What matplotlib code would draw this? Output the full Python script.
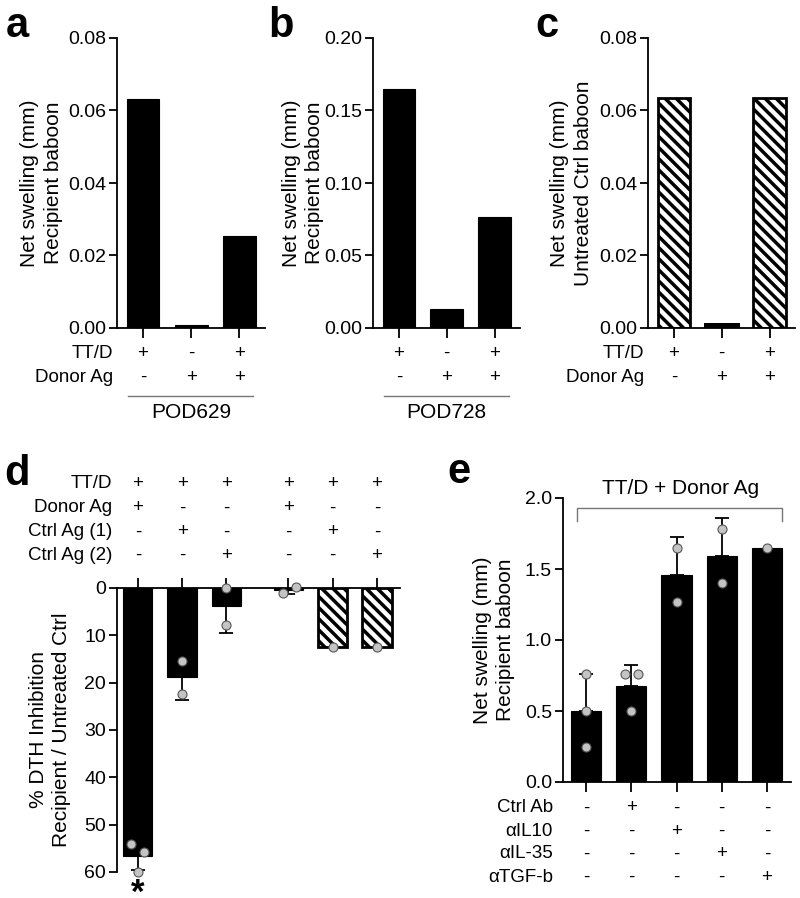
import numpy as np
import matplotlib
matplotlib.use('Agg')
import matplotlib.pyplot as plt
from matplotlib.transforms import blended_transform_factory

plt.rcParams['font.family'] = ['Liberation Sans', 'DejaVu Sans']
plt.rcParams['hatch.linewidth'] = 2.5
plt.rcParams['axes.linewidth'] = 1.3

# ---- data ----
abc_ttd = ['+', '-', '+']
abc_donor = ['-', '+', '+']
a_vals = [0.0633, 0.0007, 0.0255]
b_vals = [0.165, 0.0129, 0.0766]
c_vals = [0.0635, 0.0012, 0.0635]

d_rows = ['TT/D', 'Donor Ag', 'Ctrl Ag (1)', 'Ctrl Ag (2)']
d_signs = [['+', '+', '+', '+', '+', '+'],
           ['+', '-', '-', '+', '-', '-'],
           ['-', '+', '-', '-', '+', '-'],
           ['-', '-', '+', '-', '-', '+']]
d_points = [[54.0, 55.8, 60.0], [15.5, 22.3], [0.0, 7.8], [1.0, -0.2], [12.5], [12.5]]
d_hatched = [False, False, False, False, True, True]

e_rows = ['Ctrl Ab', 'αIL10', 'αIL-35', 'αTGF-b']
e_signs = [['-', '+', '-', '-', '-'],
           ['-', '-', '+', '-', '-'],
           ['-', '-', '-', '+', '-'],
           ['-', '-', '-', '-', '+']]
e_points = [[0.76, 0.50, 0.25], [0.76, 0.76, 0.50], [1.65, 1.27], [1.78, 1.40], [1.65]]

# small horizontal jitter of the dots
d_jitter = [[-0.15, 0.13, 0.0], [0, 0], [0, 0], [-0.12, 0.18], [0], [0]]
e_jitter = [[0, 0, 0], [-0.15, 0.15, 0], [0, 0], [0, 0], [0]]

TICK_FS = 14
LAB_FS = 15
ROW_FS = 13.5
W, H = 800, 898

fig = plt.figure(figsize=(W / 100, H / 100), dpi=100)


def fx(px):
    return px / W


def fy(py):
    return 1 - py / H


def add_ax(left, right, top, bottom):
    return fig.add_axes([fx(left), fy(bottom), fx(right - left), (bottom - top) / H])


def basic_style(ax):
    ax.spines['top'].set_visible(False)
    ax.spines['right'].set_visible(False)
    ax.tick_params(axis='y', direction='out', length=6, width=1.3, labelsize=TICK_FS, pad=2)
    ax.tick_params(axis='x', direction='out', length=7, width=1.3, labelbottom=False)


def sign_rows(ax, labels, signs, ys, xs, label_px):
    tr = blended_transform_factory(ax.transData, fig.transFigure)
    for r, y in enumerate(ys):
        if labels is not None:
            fig.text(fx(label_px), fy(y), labels[r], ha='right', va='center', fontsize=ROW_FS)
        for i, s in enumerate(signs[r]):
            ax.text(xs[i], fy(y), s, transform=tr, ha='center', va='center', fontsize=ROW_FS)


# ---- panels a, b, c ----
x3 = np.arange(3)
tops = [(117, 265, 0.08, [0, 0.02, 0.04, 0.06, 0.08], a_vals, 'Recipient baboon', -0.365, True, 'POD629'),
        (373, 520, 0.20, [0, 0.05, 0.10, 0.15, 0.20], b_vals, 'Recipient baboon', -0.333, False, 'POD728'),
        (648, 795, 0.08, [0, 0.02, 0.04, 0.06, 0.08], c_vals, 'Untreated Ctrl baboon', -0.376, True, None)]
for k, (l, r, ymax, yt, vals, lab2, lcx, show_lab, pod) in enumerate(tops):
    ax = add_ax(l, r, 38, 328)
    if k == 2:
        ax.bar(x3, vals, width=0.68, color='white', edgecolor='black', linewidth=2, hatch='\\\\\\')
        # the tiny middle bar reads as solid black
        ax.bar(x3[1], vals[1], width=0.68, color='black', edgecolor='black', linewidth=2)
    else:
        ax.bar(x3, vals, width=0.68, color='black', edgecolor='black', linewidth=0.8)
    ax.set_xlim(-0.54, 2.53)
    ax.set_ylim(0, ymax)
    ax.set_yticks(yt)
    ax.set_yticklabels(['{:.2f}'.format(v) for v in yt])
    ax.set_xticks(x3)
    basic_style(ax)
    ax.set_ylabel('Net swelling (mm)\n' + lab2, fontsize=LAB_FS, linespacing=1.3)
    ax.yaxis.set_label_coords(lcx, 0.5)
    sign_rows(ax, ['TT/D', 'Donor Ag'] if show_lab else None, [abc_ttd, abc_donor],
              [353, 377], x3, l - 4)
    if pod:
        tr = blended_transform_factory(ax.transData, fig.transFigure)
        ax.plot([-0.31, 2.29], [fy(396), fy(396)], transform=tr, color='#777777', lw=1.0, clip_on=False)
        ax.text(1, fy(412), pod, transform=tr, ha='center', va='center', fontsize=LAB_FS)

for letter, px in [('a', 6), ('b', 268), ('c', 535)]:
    fig.text(fx(px), fy(37), letter, fontsize=30, fontweight='bold', va='baseline')

# ---- panel d ----
dx = np.array([0, 1, 2, 3.4, 4.4, 5.4])
d_mean = [np.mean(p) for p in d_points]
d_sd = [np.std(p, ddof=1) if len(p) > 1 else 0 for p in d_points]
axd = add_ax(117, 400, 588, 872)
for i in range(6):
    if d_hatched[i]:
        axd.bar(dx[i], d_mean[i], width=0.66, color='white', edgecolor='black', linewidth=2, hatch='\\\\\\')
    else:
        axd.bar(dx[i], d_mean[i], width=0.66, color='black', edgecolor='black', linewidth=0.8)
    if d_sd[i] > 0:
        axd.errorbar(dx[i], d_mean[i], yerr=[[0], [d_sd[i]]], fmt='none', ecolor='black',
                     elinewidth=1.3, capsize=5, capthick=1.3, clip_on=False)
    axd.plot(dx[i] + np.array(d_jitter[i]), d_points[i], 'o', ms=6.5, mfc='#c4c4c4',
             mec='#555555', mew=0.8, clip_on=False, zorder=5)
axd.set_xlim(-0.47, 5.92)
axd.set_ylim(60, 0)
axd.set_yticks([0, 10, 20, 30, 40, 50, 60])
axd.spines['bottom'].set_visible(False)
axd.spines['right'].set_visible(False)
axd.xaxis.tick_top()
axd.set_xticks(dx)
axd.tick_params(axis='x', direction='out', length=7, width=1.3, labeltop=False, labelbottom=False)
axd.tick_params(axis='y', direction='out', length=6, width=1.3, labelsize=TICK_FS, pad=2)
axd.set_ylabel('% DTH Inhibition\nRecipient / Untreated Ctrl', fontsize=LAB_FS, linespacing=1.3)
axd.yaxis.set_label_coords(-0.162, 0.5)
axd.text(0, 64.6, '*', ha='center', va='center', fontsize=25, fontweight='bold', clip_on=False)
sign_rows(axd, d_rows, d_signs, [483, 508, 532, 555], dx, 112)
fig.text(fx(4), fy(485), 'd', fontsize=30, fontweight='bold', va='baseline')

# ---- panel e ----
ex = np.arange(5)
e_mean = [np.mean(p) for p in e_points]
e_sd = [np.std(p, ddof=1) if len(p) > 1 else 0 for p in e_points]
axe = add_ax(563, 791, 498, 782)
axe.bar(ex, e_mean, width=0.67, color='black', edgecolor='black', linewidth=0.8)
for i in range(5):
    if e_sd[i] > 0:
        axe.errorbar(ex[i], e_mean[i], yerr=[[0], [e_sd[i]]], fmt='none', ecolor='black',
                     elinewidth=1.3, capsize=5, capthick=1.3)
    axe.plot(ex[i] + np.array(e_jitter[i]), e_points[i], 'o', ms=6.5, mfc='#c4c4c4',
             mec='#555555', mew=0.8, clip_on=False, zorder=5)
axe.set_xlim(-0.51, 4.53)
axe.set_ylim(0, 2.0)
axe.set_yticks([0, 0.5, 1.0, 1.5, 2.0])
axe.set_yticklabels(['0.0', '0.5', '1.0', '1.5', '2.0'])
axe.set_xticks(ex)
basic_style(axe)
axe.set_ylabel('Net swelling (mm)\nRecipient baboon', fontsize=LAB_FS, linespacing=1.3)
axe.yaxis.set_label_coords(-0.21, 0.5)
sign_rows(axe, e_rows, e_signs, [808, 831, 854, 877], ex, 553)
tre = blended_transform_factory(axe.transData, fig.transFigure)
axe.plot([-0.2, -0.2, 4.33, 4.33], [fy(521), fy(508), fy(508), fy(521)], transform=tre,
         color='#777777', lw=1.0, clip_on=False)
axe.text(2.08, fy(489), 'TT/D + Donor Ag', transform=tre, ha='center', va='center', fontsize=LAB_FS)
fig.text(fx(447), fy(483), 'e', fontsize=30, fontweight='bold', va='baseline')

fig.savefig('out.png', dpi=100)
